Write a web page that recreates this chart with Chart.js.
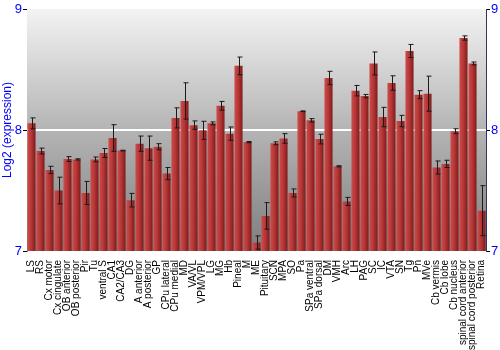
<!DOCTYPE html>
<html>
<head>
  <title>Expression by region</title>
  <script src="https://cdn.jsdelivr.net/npm/chart.js"></script>
  <style>
    html, body { margin: 0; padding: 0; background: #fff; }
    #wrap { width: 500px; height: 350px; }
  </style>
</head>
<body>
  <div id="wrap"><canvas id="chart" width="500" height="350"></canvas></div>

  <script>
    // regions on the x axis
    const regions = ['LS', 'RS', 'Cx motor', 'Cx cingulate', 'OB anterior', 'OB posterior', 'Pir', 'Tu',
      'ventral S', 'CA1', 'CA2/CA3', 'DG', 'A anterior', 'A posterior', 'GP', 'CPu lateral', 'CPu medial',
      'MD', 'VA/VL', 'VPM/VPL', 'LG', 'MG', 'Hb', 'Pineal', 'M', 'ME', 'Pituitary', 'SCN', 'MPA', 'SO', 'Pa',
      'SPa ventral', 'SPa dorsal', 'DM', 'VMH', 'Arc', 'LH', 'PAG', 'SC', 'IC', 'VTA', 'SN', 'Tg', 'Pn', 'MVe',
      'Cb vermis', 'Cb lobe', 'Cb nucleus', 'spinal cord anterior', 'spinal cord posterior', 'Retina'];

    // mean log2 expression
    const means = [8.055, 7.826, 7.67, 7.50, 7.76, 7.757, 7.48, 7.757,
      7.81, 7.934, 7.83, 7.42, 7.887, 7.85, 7.862, 7.64, 8.10,
      8.24, 8.04, 7.997, 8.055, 8.20, 7.97, 8.53, 7.90, 7.07, 7.29, 7.89, 7.93, 7.48, 8.155,
      8.08, 7.925, 8.43, 7.70, 7.41, 8.325, 8.28, 8.55, 8.107, 8.388, 8.074, 8.653, 8.292, 8.30,
      7.69, 7.72, 7.99, 8.76, 8.55, 7.333];

    // half size of each error bar
    const errors = [0.045, 0.024, 0.03, 0.11, 0.02, 0.005, 0.095, 0.02,
      0.037, 0.11, 0.003, 0.056, 0.063, 0.1, 0.025, 0.05, 0.083,
      0.15, 0.035, 0.075, 0.012, 0.036, 0.055, 0.073, 0.005, 0.055, 0.11, 0.012, 0.04, 0.033, 0.003,
      0.014, 0.04, 0.055, 0.005, 0.033, 0.043, 0.014, 0.095, 0.08, 0.06, 0.047, 0.054, 0.033, 0.145,
      0.054, 0.03, 0.02, 0.018, 0.012, 0.207];

    const yTicks = [7, 8, 9];

    const blue = '#0000ff';

    // gray gradient behind the bars
    const backdrop = {
      id: 'backdrop',
      beforeDatasetsDraw(chart) {
        const { ctx, chartArea: a } = chart;
        const g = ctx.createLinearGradient(0, a.top, 0, a.bottom);
        g.addColorStop(0, '#f3f3f3');
        g.addColorStop(0.5, '#b4b4b4');
        g.addColorStop(1, '#7e7e7e');
        ctx.save();
        ctx.fillStyle = g;
        ctx.fillRect(a.left, a.top, a.right - a.left, a.bottom - a.top);
        // white line at 8
        const y8 = chart.scales.y.getPixelForValue(8);
        ctx.strokeStyle = '#ffffff';
        ctx.lineWidth = 2;
        ctx.beginPath();
        ctx.moveTo(a.left, y8);
        ctx.lineTo(a.right, y8);
        ctx.stroke();
        ctx.restore();
      }
    };

    // error bars drawn with the chart's own scales
    const errorBars = {
      id: 'errorBars',
      afterDatasetsDraw(chart) {
        const { ctx } = chart;
        const x = chart.scales.x, y = chart.scales.y;
        ctx.save();
        ctx.strokeStyle = '#1a1a1a';
        ctx.lineWidth = 1;
        means.forEach((m, i) => {
          const px = Math.round(x.getPixelForValue(i)) + 0.5;
          const top = y.getPixelForValue(m + errors[i]);
          const bot = y.getPixelForValue(m - errors[i]);
          ctx.beginPath();
          ctx.moveTo(px, top);
          ctx.lineTo(px, bot);
          ctx.moveTo(px - 2, top);
          ctx.lineTo(px + 3, top);
          ctx.moveTo(px - 2, bot);
          ctx.lineTo(px + 3, bot);
          ctx.stroke();
        });
        ctx.restore();
      }
    };

    function barFill(c) {
      const xs = c.chart.scales.x;
      if (!xs || c.dataIndex === undefined) return '#b03535';
      const cx = xs.getPixelForValue(c.dataIndex);
      if (!isFinite(cx)) return '#b03535';
      const g = c.chart.ctx.createLinearGradient(cx - 4, 0, cx + 4, 0);
      g.addColorStop(0, '#cc4c4c');
      g.addColorStop(0.5, '#b53434');
      g.addColorStop(1, '#7e1c1c');
      return g;
    }

    new Chart(document.getElementById('chart'), {
      type: 'bar',
      data: {
        labels: regions,
        datasets: [{
          data: means,
          backgroundColor: barFill,
          borderWidth: 0,
          barPercentage: 0.9,
          categoryPercentage: 1.0
        }]
      },
      options: {
        responsive: false,
        animation: false,
        layout: { padding: { top: 9, right: 0, left: 0, bottom: 0 } },
        plugins: {
          legend: { display: false },
          tooltip: { enabled: false }
        },
        scales: {
          x: {
            grid: { display: false },
            border: { display: false },
            ticks: {
              color: '#000',
              minRotation: 90,
              maxRotation: 90,
              autoSkip: false,
              padding: 1,
              font: { family: 'Liberation Sans, Arial, sans-serif', size: 10 }
            },
            afterFit(s) { s.height = 99; }
          },
          y: {
            min: 7,
            max: 9,
            afterBuildTicks(s) { s.ticks = yTicks.map(v => ({ value: v })); },
            grid: {
              color: c => c.tick && c.tick.value === 9 ? '#777777' : 'rgba(0,0,0,0)',
              tickColor: '#000',
              tickLength: 4
            },
            border: { color: '#777777' },
            ticks: {
              color: blue,
              padding: 1,
              font: { family: 'Liberation Sans, Arial, sans-serif', size: 13 }
            },
            title: {
              display: true,
              text: 'Log2 (expression)',
              color: blue,
              padding: 0,
              font: { family: 'Liberation Sans, Arial, sans-serif', size: 12 }
            },
            afterFit(s) { s.width = 27; }
          },
          y2: {
            position: 'right',
            min: 7,
            max: 9,
            afterBuildTicks(s) { s.ticks = yTicks.map(v => ({ value: v })); },
            grid: { drawOnChartArea: false, tickColor: '#000', tickLength: 4 },
            border: { color: '#333366' },
            ticks: {
              color: blue,
              padding: 1,
              font: { family: 'Liberation Sans, Arial, sans-serif', size: 13 }
            },
            afterFit(s) { s.width = 14; }
          }
        }
      },
      plugins: [backdrop, errorBars]
    });
  </script>
</body>
</html>
